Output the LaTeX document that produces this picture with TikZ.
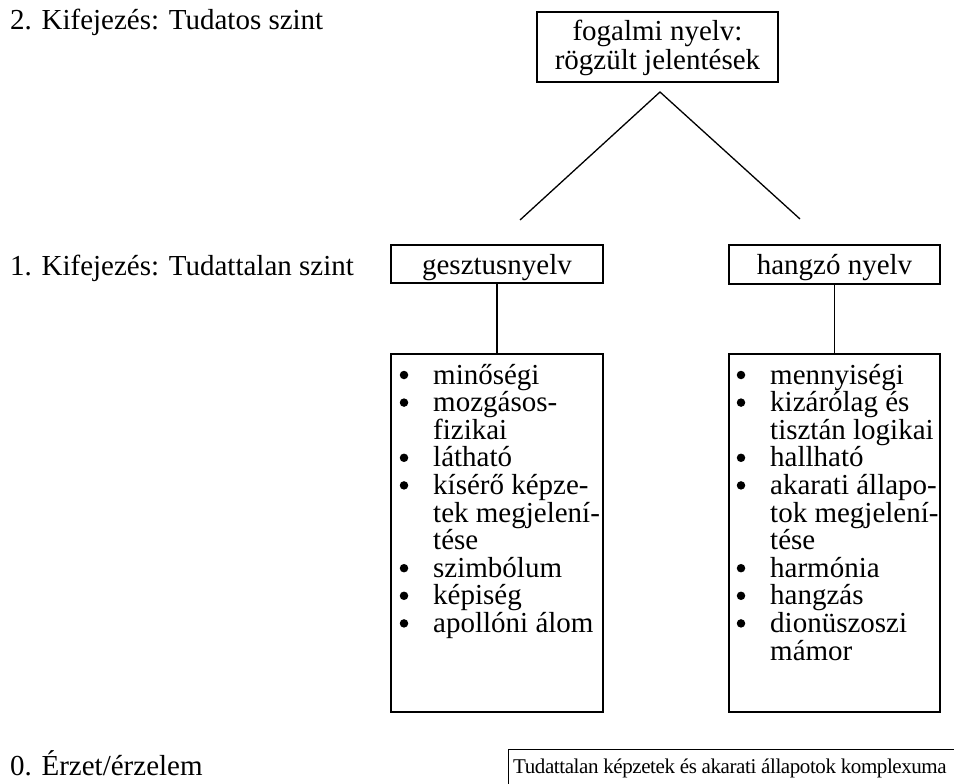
\documentclass[tikz,border=0pt]{standalone}
\usepackage{fontspec}
\setmainfont{Liberation Serif}
\newfontfamily\condfont[LetterSpace=-2]{Liberation Serif}
\begin{document}
\begin{tikzpicture}[x=1pt,y=-1pt,
  txt/.style={font=\fontsize{29}{27.6}\selectfont, inner sep=0},
  smalltxt/.style={font=\condfont\fontsize{21}{24}\selectfont, inner sep=0},
  box/.style={draw, line width=1.4pt, inner sep=0},
  bul/.style={fill, circle, inner sep=0, minimum size=8.5pt},
  conn/.style={line width=1.3pt}]
\useasboundingbox (0,0) rectangle (954,784);
\clip (0,0) rectangle (954,784);
% level labels
\node[txt, anchor=base west] (l2) at (10,30) {2. Kifejezés: Tudatos szint};
\node[txt, anchor=base west] (l1) at (10,275) {1. Kifejezés: Tudattalan szint};
\node[txt, anchor=base west] (l0) at (10,775) {0. Érzet/érzelem};
% top box
\node[box, minimum width=241pt, minimum height=70pt] (top) at (657.5,47) {};
\node[txt, anchor=base] (t1) at (657.5,41) {fogalmi nyelv:};
\node[txt, anchor=base] (t2) at (657.5,70) {rögzült jelentések};
\coordinate (apex) at (660,92);
\coordinate (lend) at (520,220);
\coordinate (rend) at (800,219);
\draw[conn] (lend) -- (apex) -- (rend);
% level 1 boxes
\node[box, minimum width=212pt, minimum height=38pt] (gesz) at (497,264) {};
\node[txt, anchor=base] (gt) at (497,274) {gesztusnyelv};
\node[box, minimum width=211pt, minimum height=39pt] (hang) at (834.5,264.5) {};
\node[txt, anchor=base] (ht) at (834.5,274) {hangzó nyelv};
% list boxes
\node[box, minimum width=212pt, minimum height=358pt] (ll) at (497,533) {};
\node[box, minimum width=211pt, minimum height=358pt] (rl) at (834.5,533) {};
\draw[conn] (gesz.south) -- (ll.north);
\draw[conn] (hang.south) -- (rl.north);
% left list
\foreach \b/\t [count=\i] in {1/minőségi,1/mozgásos-,0/fizikai,1/látható,1/kísérő képze-,0/tek megjelení-,0/tése,1/szimbólum,1/képiség,1/apollóni álom}{
  \node[txt, anchor=base west] (la\i) at (433,{384+27.6*(\i-1)}) {\t};
  \ifnum\b=1 \node[bul] (lb\i) at (404,{384+27.6*(\i-1)-9}) {}; \fi
}
% right list
\foreach \b/\t [count=\i] in {1/mennyiségi,1/kizárólag és,0/tisztán logikai,1/hallható,1/akarati állapo-,0/tok megjelení-,0/tése,1/harmónia,1/hangzás,1/dionüszoszi,0/mámor}{
  \node[txt, anchor=base west] (ra\i) at (770,{384+27.6*(\i-1)}) {\t};
  \ifnum\b=1 \node[bul] (rb\i) at (741,{384+27.6*(\i-1)-9}) {}; \fi
}
% bottom box
\node[box, anchor=north west, minimum width=500pt, minimum height=80pt] (bot) at (508,749) {};
\node[smalltxt, anchor=base west] (bott) at (513,773) {Tudattalan képzetek és akarati állapotok komplexuma};
\end{tikzpicture}
\end{document}
